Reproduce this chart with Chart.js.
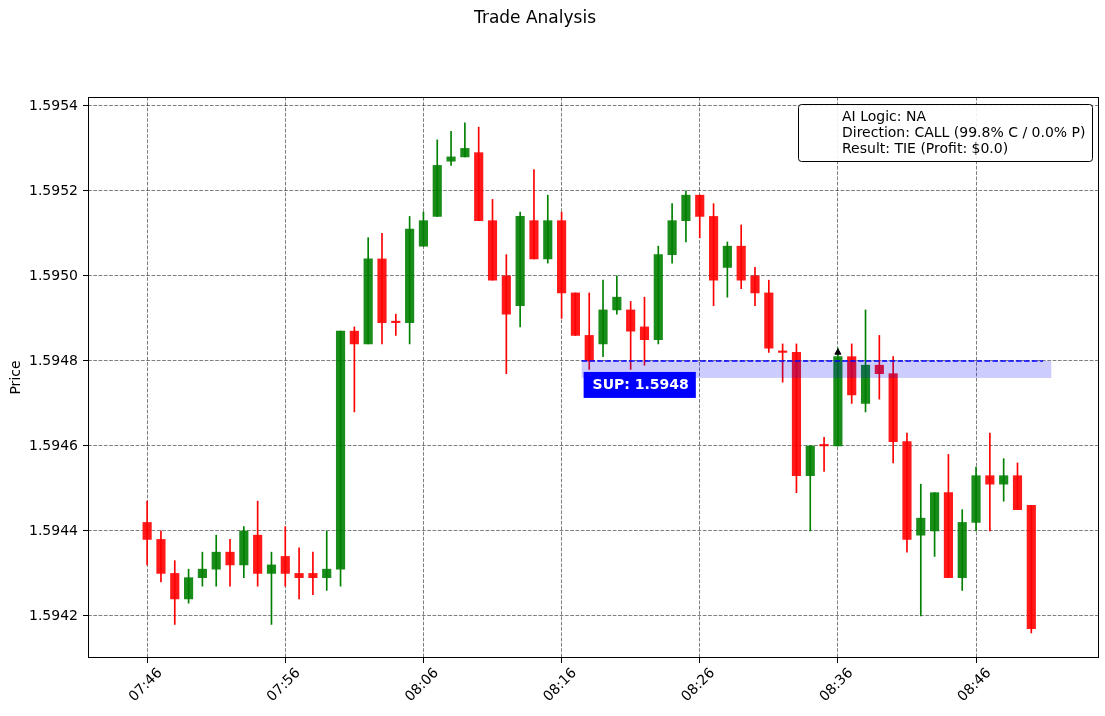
<!DOCTYPE html>
<html>
<head>
<meta charset="utf-8">
<script src="https://cdn.jsdelivr.net/npm/chart.js@4.4.1/dist/chart.umd.min.js"></script>
<style>
  html, body { margin: 0; padding: 0; background: #fff; }
  #wrap { width: 1105px; height: 716px; position: relative; }
</style>
</head>
<body>
<div id="wrap"><canvas id="trade-chart"></canvas></div>
<script>
// one candle per minute, 07:46 .. 08:50
const times = [
  '07:46','07:47','07:48','07:49','07:50','07:51','07:52','07:53','07:54','07:55',
  '07:56','07:57','07:58','07:59','08:00','08:01','08:02','08:03','08:04','08:05',
  '08:06','08:07','08:08','08:09','08:10','08:11','08:12','08:13','08:14','08:15',
  '08:16','08:17','08:18','08:19','08:20','08:21','08:22','08:23','08:24','08:25',
  '08:26','08:27','08:28','08:29','08:30','08:31','08:32','08:33','08:34','08:35',
  '08:36','08:37','08:38','08:39','08:40','08:41','08:42','08:43','08:44','08:45',
  '08:46','08:47','08:48','08:49','08:50'
];
const opens = [
  1.59442,1.59438,1.59430,1.59424,1.59429,1.59431,1.59435,1.59432,1.59439,1.59430,
  1.59434,1.59430,1.59430,1.59429,1.59431,1.59487,1.59484,1.59504,1.59489,1.59489,
  1.59507,1.59514,1.59527,1.59528,1.59529,1.59513,1.59500,1.59493,1.59513,1.59504,
  1.59513,1.59496,1.59486,1.59484,1.59492,1.59492,1.59488,1.59485,1.59505,1.59513,
  1.59519,1.59514,1.59502,1.59507,1.59500,1.59496,1.59482,1.59482,1.59453,1.59460,
  1.59460,1.59481,1.59470,1.59479,1.59477,1.59461,1.59439,1.59440,1.59449,1.59429,
  1.59442,1.59453,1.59451,1.59453,1.59446
];
const highs = [
  1.59447,1.59440,1.59433,1.59431,1.59435,1.59439,1.59438,1.59441,1.59447,1.59435,
  1.59441,1.59436,1.59435,1.59440,1.59487,1.59488,1.59509,1.59510,1.59491,1.59514,
  1.59515,1.59532,1.59534,1.59536,1.59535,1.59518,1.59505,1.59515,1.59525,1.59519,
  1.59515,1.59496,1.59496,1.59499,1.59500,1.59494,1.59495,1.59507,1.59517,1.59520,
  1.59519,1.59517,1.59508,1.59512,1.59502,1.59499,1.59484,1.59484,1.59460,1.59462,
  1.59483,1.59484,1.59492,1.59486,1.59481,1.59463,1.59451,1.59449,1.59458,1.59445,
  1.59455,1.59463,1.59457,1.59456,1.59446
];
const lows = [
  1.59432,1.59428,1.59418,1.59423,1.59427,1.59427,1.59427,1.59429,1.59427,1.59418,
  1.59427,1.59424,1.59425,1.59426,1.59427,1.59468,1.59484,1.59484,1.59486,1.59484,
  1.59507,1.59514,1.59526,1.59528,1.59513,1.59499,1.59477,1.59488,1.59504,1.59503,
  1.59490,1.59486,1.59478,1.59481,1.59491,1.59478,1.59479,1.59484,1.59503,1.59508,
  1.59509,1.59493,1.59495,1.59497,1.59493,1.59482,1.59475,1.59449,1.59440,1.59454,
  1.59460,1.59470,1.59468,1.59471,1.59456,1.59435,1.59420,1.59434,1.59429,1.59426,
  1.59440,1.59440,1.59447,1.59445,1.59416
];
const closes = [
  1.59438,1.59430,1.59424,1.59429,1.59431,1.59435,1.59432,1.59440,1.59430,1.59432,
  1.59430,1.59429,1.59429,1.59431,1.59487,1.59484,1.59504,1.59489,1.59489,1.59511,
  1.59513,1.59526,1.59528,1.59530,1.59513,1.59499,1.59491,1.59514,1.59504,1.59513,
  1.59496,1.59486,1.59480,1.59492,1.59495,1.59487,1.59485,1.59505,1.59513,1.59519,
  1.59514,1.59499,1.59507,1.59499,1.59496,1.59483,1.59482,1.59453,1.59460,1.59460,
  1.59481,1.59472,1.59479,1.59477,1.59461,1.59438,1.59443,1.59449,1.59429,1.59442,
  1.59453,1.59451,1.59453,1.59445,1.59417
];

const xTickLabels = ['07:46','07:56','08:06','08:16','08:26','08:36','08:46'];
const yTicks = [1.5942, 1.5944, 1.5946, 1.5948, 1.5950, 1.5952, 1.5954];

const supportLevel = 1.5948;
const supportZoneLow = 1.59476;
const supportFrom = 31.45;   // in minutes from the first candle
const supportLineTo = 64.85;
const supportZoneTo = 65.45;

const entryIndex = 50;
const entryPrice = 1.59482;

const infoLines = [
  'AI Logic: NA',
  'Direction: CALL (99.8% C / 0.0% P)',
  'Result: TIE (Profit: $0.0)'
];

const FONT = "'DejaVu Sans', sans-serif";
const UP = 'rgba(0,128,0,0.9)';
const DOWN = 'rgba(255,0,0,0.9)';

var isUp = opens.map((o, i) => closes[i] > o);

var wickData = times.map((t, i) => ({x: i, y: [lows[i], highs[i]]}));
var bodyData = times.map((t, i) => ({x: i, y: [opens[i], closes[i]]}));

var overlays = {
  id: 'overlays',
  afterDatasetsDraw(chart) {
    var ctx = chart.ctx, xs = chart.scales.x, ys = chart.scales.y, area = chart.chartArea;
    ctx.save();
    ctx.beginPath();
    ctx.rect(area.left, area.top, area.right - area.left, area.bottom - area.top);
    ctx.clip();
    // support zone
    var x0 = xs.getPixelForValue(supportFrom);
    var x1 = xs.getPixelForValue(supportZoneTo);
    var yTop = ys.getPixelForValue(supportLevel);
    var yBot = ys.getPixelForValue(supportZoneLow);
    ctx.fillStyle = 'rgba(0,0,255,0.2)';
    ctx.fillRect(x0, yTop, x1 - x0, yBot - yTop);
    // support line
    ctx.strokeStyle = 'blue';
    ctx.lineWidth = 1.5;
    ctx.setLineDash([5.5, 2.4]);
    ctx.beginPath();
    ctx.moveTo(x0, yTop);
    ctx.lineTo(xs.getPixelForValue(supportLineTo), yTop);
    ctx.stroke();
    ctx.setLineDash([]);
    // label
    ctx.font = 'bold 14px ' + FONT;
    var label = 'SUP: ' + supportLevel.toFixed(4);
    var w = ctx.measureText(label).width;
    var bx = x0 + 2, by = yTop + 11;
    ctx.fillStyle = 'blue';
    ctx.fillRect(bx, by, w + 16, 26);
    ctx.fillStyle = '#fff';
    ctx.textBaseline = 'middle';
    ctx.textAlign = 'left';
    ctx.fillText(label, bx + 9, by + 13.5);
    ctx.restore();
  },
  afterDraw(chart) {
    var ctx = chart.ctx, area = chart.chartArea;
    ctx.save();
    // frame
    ctx.strokeStyle = '#000';
    ctx.lineWidth = 1;
    ctx.strokeRect(area.left + 0.5, area.top + 0.5, area.right - area.left - 1, area.bottom - area.top - 1);
    // title
    ctx.fillStyle = '#000';
    ctx.font = '17px ' + FONT;
    ctx.textAlign = 'center';
    ctx.textBaseline = 'middle';
    ctx.fillText('Trade Analysis', 535, 19);
    // info box
    var bw = 294, bh = 57;
    var bx = area.right - 7 - bw, by = area.top + 7;
    ctx.beginPath();
    ctx.roundRect(bx + 0.5, by + 0.5, bw, bh, 3);
    ctx.fillStyle = 'rgba(255,255,255,0.9)';
    ctx.fill();
    ctx.strokeStyle = '#000';
    ctx.stroke();
    ctx.fillStyle = '#000';
    ctx.font = '14px ' + FONT;
    ctx.textAlign = 'left';
    infoLines.forEach((line, k) => ctx.fillText(line, bx + 44, by + 13.5 + k * 16));
    ctx.restore();
  }
};

new Chart(document.getElementById('trade-chart'), {
  data: {
    datasets: [
      {
        type: 'bar',
        data: wickData,
        backgroundColor: isUp.map(u => u ? 'green' : 'red'),
        barThickness: 1,
        grouped: false,
        order: 3
      },
      {
        type: 'bar',
        data: bodyData,
        backgroundColor: isUp.map(u => u ? UP : DOWN),
        barThickness: 8.5,
        minBarLength: 1.5,
        grouped: false,
        order: 2
      },
      {
        type: 'scatter',
        data: [{x: entryIndex, y: entryPrice}],
        pointStyle: 'triangle',
        radius: 3.5,
        backgroundColor: '#000',
        borderColor: '#000',
        order: 1
      }
    ]
  },
  options: {
    responsive: true,
    maintainAspectRatio: false,
    animation: false,
    layout: { padding: { top: 97, right: 6, left: 0, bottom: 0 } },
    plugins: {
      legend: { display: false },
      tooltip: { enabled: false }
    },
    scales: {
      x: {
        type: 'linear',
        offset: false,
        min: -4.28,
        max: 68.9,
        afterBuildTicks: (scale) => {
          scale.ticks = xTickLabels.map(l => ({value: times.indexOf(l)}));
        },
        afterFit: (scale) => { scale.height = 58; },
        ticks: {
          callback: (v) => times[v],
          minRotation: 45,
          maxRotation: 45,
          labelOffset: 13,
          padding: 2,
          color: '#000',
          font: { family: FONT, size: 14 }
        },
        grid: {
          offset: false,
          color: 'rgba(0,0,0,0.5)',
          lineWidth: 1,
          tickColor: '#000',
          tickLength: 5
        },
        border: { display: false, dash: [3.7, 1.6] }
      },
      y: {
        type: 'linear',
        min: 1.594101,
        max: 1.595421,
        afterBuildTicks: (scale) => {
          scale.ticks = yTicks.map(v => ({value: v}));
        },
        afterFit: (scale) => { scale.width = 88; },
        ticks: {
          callback: (v) => v.toFixed(4),
          padding: 5,
          color: '#000',
          font: { family: FONT, size: 14 }
        },
        title: {
          display: true,
          text: 'Price',
          color: '#000',
          font: { family: FONT, size: 14 },
          padding: { top: 8, bottom: 0 }
        },
        grid: {
          color: 'rgba(0,0,0,0.5)',
          lineWidth: 1,
          tickColor: '#000',
          tickLength: 5
        },
        border: { display: false, dash: [3.7, 1.6] }
      }
    }
  },
  plugins: [overlays]
});
</script>
</body>
</html>
